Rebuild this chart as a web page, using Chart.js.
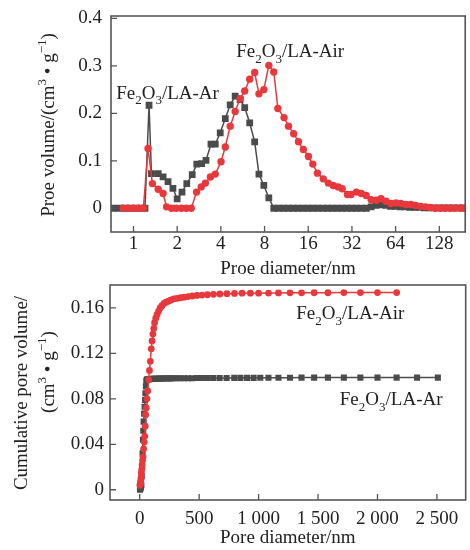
<!DOCTYPE html>
<html>
<head>
<meta charset="utf-8">
<script src="https://cdn.jsdelivr.net/npm/chart.js@4.4.0/dist/chart.umd.min.js"></script>
<style>
  html, body { margin: 0; padding: 0; background: #fff; }
  #wrap { position: relative; width: 470px; height: 550px; }
  canvas { position: absolute; left: 0; }
</style>
</head>
<body>
<div id="wrap">
  <canvas id="psd" width="470" height="280" style="top:0"></canvas>
  <canvas id="cum" width="470" height="270" style="top:280px"></canvas>
</div>
<script>
// pore size distribution (dV/dlogD), log2 diameter axis
const psdTicks = [1, 2, 4, 8, 16, 32, 64, 128];
const psdVolTicks = [0, 0.1, 0.2, 0.3, 0.4];

const arDiam = [0.72, 0.79, 0.87, 0.95, 1.04, 1.13, 1.2,
  1.28, 1.33, 1.48, 1.6, 1.73, 1.87, 2.0, 2.16, 2.33, 2.54, 2.73, 2.95, 3.16, 3.42, 3.66, 3.96,
  4.29, 4.64, 5.02, 5.43, 5.84, 6.32, 6.84, 7.32, 7.91, 8.56, 9.26,
  10.0, 10.8, 11.7, 12.6, 13.6, 14.7, 15.9, 17.2, 18.6, 20.1, 21.7, 23.4, 25.3, 27.3, 29.5, 31.9, 34.4, 37.2, 40.2,
  43.4, 46.9, 50.6, 54.7, 59.1, 63.8, 68.9, 74.4, 80.3, 86.8, 93.7, 101, 109, 118, 128, 138, 149, 161, 174, 188];
const arVol = [0, 0, 0, 0, 0, 0, 0,
  0.217, 0.073, 0.073, 0.066, 0.056, 0.042, 0.02, 0.034, 0.052, 0.071, 0.093, 0.094, 0.101, 0.135, 0.135, 0.159,
  0.189, 0.218, 0.236, 0.229, 0.212, 0.18, 0.14, 0.072, 0.048, 0.022, 0,
  0, 0, 0, 0, 0, 0, 0, 0, 0, 0, 0, 0, 0, 0, 0, 0, 0, 0, 0,
  0.003, 0.006, 0.007, 0.006, 0.004, 0.004, 0.003, 0.003, 0.002, 0.002, 0.002, 0.001, 0.001, 0.001, 0.001, 0.001, 0.001, 0.001, 0.001, 0.001];

const airDiam = [0.85, 0.92, 1.0, 1.08, 1.17,
  1.26, 1.35, 1.48, 1.6, 1.69, 1.83, 1.97, 2.14, 2.31, 2.5,
  2.72, 2.93, 3.13, 3.39, 3.66, 4.01, 4.29, 4.64, 5.02, 5.43, 5.84, 6.32, 6.84, 7.32, 7.91, 8.56, 9.26, 9.88,
  10.9, 11.7, 12.7, 13.7, 14.8, 16.05, 17.2, 18.5, 20.3, 22.0, 23.8, 25.7, 27.4, 29.8, 31.5, 34.3, 37.1, 40.1,
  43.4, 47.0, 50.8, 55.0, 59.4, 64.3, 69.6, 75.3, 81.4, 88.0, 95.3, 103, 111, 120, 130, 140, 152, 164, 178, 190];
const airVol = [0, 0, 0, 0, 0,
  0.126, 0.052, 0.04, 0.031, 0.003, 0, 0, 0, 0, 0,
  0.034, 0.045, 0.053, 0.066, 0.072, 0.098, 0.129, 0.173, 0.204, 0.231, 0.247, 0.272, 0.286, 0.241, 0.25, 0.301, 0.287, 0.21,
  0.191, 0.173, 0.157, 0.14, 0.124, 0.109, 0.093, 0.074, 0.062, 0.053, 0.048, 0.045, 0.041, 0.029, 0.029, 0.034, 0.031, 0.027,
  0.018, 0.017, 0.02, 0.015, 0.01, 0.011, 0.01, 0.008, 0.008, 0.006, 0.004, 0.003, 0.0015, 0, 0, 0, 0, 0, 0, 0];

// cumulative pore volume, linear diameter axis
const cumDiamTicks = [0, 500, 1000, 1500, 2000, 2500];
const cumDiamLabels = ['0', '500', '1 000', '1 500', '2 000', '2 500'];
const cumVolTicks = [0, 0.04, 0.08, 0.12, 0.16];

const arCumDiam = [2, 6, 10, 14, 17, 20, 24, 27, 30, 33, 37, 41, 45, 48, 52, 56, 60, 65, 70, 76, 82, 89, 97, 105,
  114, 124, 135, 147, 160, 174, 189, 206, 224, 244, 265, 288, 314, 342, 372, 405, 441, 480, 522, 568, 618, 672,
  731, 795, 847, 903, 958, 1014, 1083, 1167, 1264, 1361, 1467, 1583, 1717, 1856, 2000, 2161, 2333, 2508];
const arCumVol = [0, 0.001, 0.002, 0.004, 0.012, 0.02, 0.032, 0.044, 0.052, 0.06, 0.067, 0.073, 0.079, 0.085, 0.091, 0.096,
  0.097, 0.0971, 0.0972, 0.0973, 0.0974, 0.0975, 0.0975, 0.0976, 0.0976, 0.0977, 0.0977, 0.0977, 0.0978, 0.0978,
  0.0979, 0.0979, 0.098, 0.098, 0.098, 0.0981, 0.0981, 0.0981, 0.0982, 0.0982,
  0.0982, 0.0983, 0.0983, 0.0983, 0.0984, 0.0984, 0.0984, 0.0985, 0.0985, 0.0985,
  0.0985, 0.0986, 0.0986, 0.0986, 0.0986, 0.0987, 0.0987, 0.0987, 0.0987, 0.0987, 0.0987, 0.0987, 0.0987, 0.0987];

const airCumDiam = [2, 4, 6, 8, 10, 12, 14, 17, 20, 24, 28, 33, 38, 42, 46, 50, 55, 61, 67, 75, 82, 89, 97, 104, 111,
  118, 125, 135, 146, 158, 172, 187, 204, 222, 242, 264, 288, 314, 342, 373, 406, 442, 481, 524, 570, 620, 674, 733,
  797, 861, 931, 1000, 1083, 1167, 1264, 1361, 1467, 1583, 1717, 1856, 2000, 2161];
const airCumVol = [0.004, 0.005, 0.006, 0.007, 0.009, 0.011, 0.015, 0.018, 0.022, 0.026, 0.029, 0.036, 0.042, 0.047, 0.056,
  0.066, 0.072, 0.08, 0.087, 0.097, 0.105, 0.113, 0.124, 0.131, 0.137, 0.142, 0.147, 0.151, 0.154, 0.157,
  0.16, 0.162, 0.164, 0.165, 0.166, 0.167, 0.168, 0.1685, 0.169, 0.1695, 0.17, 0.1705, 0.171, 0.1713, 0.1716,
  0.172, 0.1723, 0.1726, 0.1728, 0.173, 0.173, 0.173, 0.1731, 0.1732, 0.1733, 0.1733, 0.1734, 0.1734, 0.1735, 0.1735,
  0.1735, 0.1735];

const RED = '#e8383c';
const GREY = '#4b4b4b';
const TEXT = '#222';
const FAMILY = '"Liberation Serif", "Times New Roman", serif';
const FS = 19;

const toPoints = (xs, ys) => xs.map((x, i) => ({ x, y: ys[i] }));

// runs: [text, kind] with kind 0 = normal, 1 = subscript, 2 = superscript
function drawRich(ctx, runs, x, y, align) {
  const small = Math.round(FS * 0.68);
  const widths = runs.map(([t, k]) => {
    ctx.font = `${k ? small : FS}px ${FAMILY}`;
    return ctx.measureText(t).width;
  });
  const total = widths.reduce((a, b) => a + b, 0);
  let cx = align === 'center' ? x - total / 2 : x;
  ctx.textBaseline = 'alphabetic';
  ctx.textAlign = 'left';
  runs.forEach(([t, k], i) => {
    ctx.font = `${k ? small : FS}px ${FAMILY}`;
    const dy = k === 1 ? FS * 0.3 : k === 2 ? -FS * 0.4 : 0;
    ctx.fillText(t, cx, y + dy);
    cx += widths[i];
  });
}

const unitRuns = [['(cm', 0], ['3', 2], [' \u2022 g', 0], ['\u22121', 2], [')', 0]];
const airLabel = [['Fe', 0], ['2', 1], ['O', 0], ['3', 1], ['/LA-Air', 0]];
const arLabel = [['Fe', 0], ['2', 1], ['O', 0], ['3', 1], ['/LA-Ar', 0]];

const decor = {
  id: 'decor',
  afterDraw(chart, args, opts) {
    const { ctx, chartArea: a, scales } = chart;
    ctx.save();
    // inward ticks on the bottom and left axes
    ctx.strokeStyle = '#555';
    ctx.lineWidth = 1.3;
    ctx.beginPath();
    scales.x.ticks.forEach(t => {
      const px = scales.x.getPixelForValue(t.value);
      ctx.moveTo(px, a.bottom);
      ctx.lineTo(px, a.bottom - 6);
    });
    scales.y.ticks.forEach(t => {
      const py = scales.y.getPixelForValue(t.value);
      ctx.moveTo(a.left, py);
      ctx.lineTo(a.left + 6, py);
    });
    ctx.stroke();
    // frame
    ctx.lineWidth = 1.6;
    ctx.strokeRect(a.left, a.top, a.right - a.left, a.bottom - a.top);

    ctx.fillStyle = TEXT;
    (opts.labels || []).forEach(l => {
      drawRich(ctx, l.runs, scales.x.getPixelForValue(l.x), scales.y.getPixelForValue(l.y), 'left');
    });
    (opts.yTitle || []).forEach(t => {
      ctx.save();
      ctx.translate(t.base, t.mid);
      ctx.rotate(-Math.PI / 2);
      drawRich(ctx, t.runs, 0, 0, 'center');
      ctx.restore();
    });
    ctx.restore();
  }
};

function axisFont() {
  return { family: FAMILY, size: FS };
}

// fixed axis width, no extra room reserved for overhanging labels
function fixWidth(w) {
  return s => { s.width = w; s.paddingTop = 0; s.paddingBottom = 0; };
}

function series(label, pts, color, style, radius) {
  return {
    label,
    data: pts,
    borderColor: color,
    backgroundColor: color,
    borderWidth: 1.5,
    pointStyle: style,
    pointRadius: radius,
    pointBorderWidth: 0,
    pointHoverRadius: radius,
    tension: 0
  };
}

new Chart(document.getElementById('psd'), {
  type: 'line',
  data: {
    datasets: [
      series('Fe2O3/LA-Air', toPoints(airDiam, airVol), RED, 'circle', 3.7),
      series('Fe2O3/LA-Ar', toPoints(arDiam, arVol), GREY, 'rect', 4.8)
    ]
  },
  options: {
    responsive: false,
    animation: false,
    layout: { padding: { top: 16, right: 1, left: 0, bottom: 0 } },
    plugins: {
      legend: { display: false },
      tooltip: { enabled: false },
      decor: {
        labels: [
          { runs: arLabel, x: 0.76, y: 0.231 },
          { runs: airLabel, x: 5.1, y: 0.318 }
        ],
        yTitle: [
          { runs: [['Proe volume/', 0]].concat(unitRuns), base: 54, mid: 125 }
        ]
      }
    },
    scales: {
      x: {
        type: 'logarithmic',
        min: 0.7,
        max: 193,
        afterBuildTicks: s => { s.ticks = psdTicks.map(v => ({ value: v })); },
        afterFit: s => { s.height = 48; },
        grid: { display: false, drawTicks: false },
        border: { display: false },
        ticks: { color: TEXT, font: axisFont(), padding: 1, maxRotation: 0, autoSkip: false, callback: v => String(v) },
        title: { display: true, text: 'Proe diameter/nm', color: TEXT, font: axisFont(), padding: { top: 0, bottom: 0 } }
      },
      y: {
        min: -0.05,
        max: 0.405,
        afterBuildTicks: s => { s.ticks = psdVolTicks.map(v => ({ value: v })); },
        afterFit: fixWidth(111),
        grid: { display: false, drawTicks: false },
        border: { display: false },
        ticks: { color: TEXT, font: axisFont(), padding: 9, callback: v => String(v) }
      }
    }
  },
  plugins: [decor]
});

new Chart(document.getElementById('cum'), {
  type: 'line',
  data: {
    datasets: [
      series('Fe2O3/LA-Air', toPoints(airCumDiam, airCumVol), RED, 'circle', 3.4),
      series('Fe2O3/LA-Ar', toPoints(arCumDiam, arCumVol), GREY, 'rect', 4.3)
    ]
  },
  options: {
    responsive: false,
    animation: false,
    layout: { padding: { top: 5, right: 1, left: 0, bottom: 0 } },
    plugins: {
      legend: { display: false },
      tooltip: { enabled: false },
      decor: {
        labels: [
          { runs: airLabel, x: 1317, y: 0.1503 },
          { runs: arLabel, x: 1683, y: 0.0747 }
        ],
        yTitle: [
          { runs: [['Cumulative pore volume/', 0]], base: 27, mid: 113 },
          { runs: unitRuns, base: 54, mid: 92 }
        ]
      }
    },
    scales: {
      x: {
        type: 'linear',
        min: -250,
        max: 2742,
        afterBuildTicks: s => { s.ticks = cumDiamTicks.map(v => ({ value: v })); },
        afterFit: s => { s.height = 50; },
        grid: { display: false, drawTicks: false },
        border: { display: false },
        ticks: {
          color: TEXT, font: axisFont(), padding: 8, maxRotation: 0, autoSkip: false,
          callback: (v, i) => cumDiamLabels[i]
        },
        title: { display: true, text: 'Pore diameter/nm', color: TEXT, font: axisFont(), padding: { top: 0, bottom: 1 } }
      },
      y: {
        min: -0.009,
        max: 0.1802,
        afterBuildTicks: s => { s.ticks = cumVolTicks.map(v => ({ value: v })); },
        afterFit: fixWidth(110),
        grid: { display: false, drawTicks: false },
        border: { display: false },
        ticks: { color: TEXT, font: axisFont(), padding: 6, callback: v => String(v) }
      }
    }
  },
  plugins: [decor]
});
</script>
</body>
</html>
